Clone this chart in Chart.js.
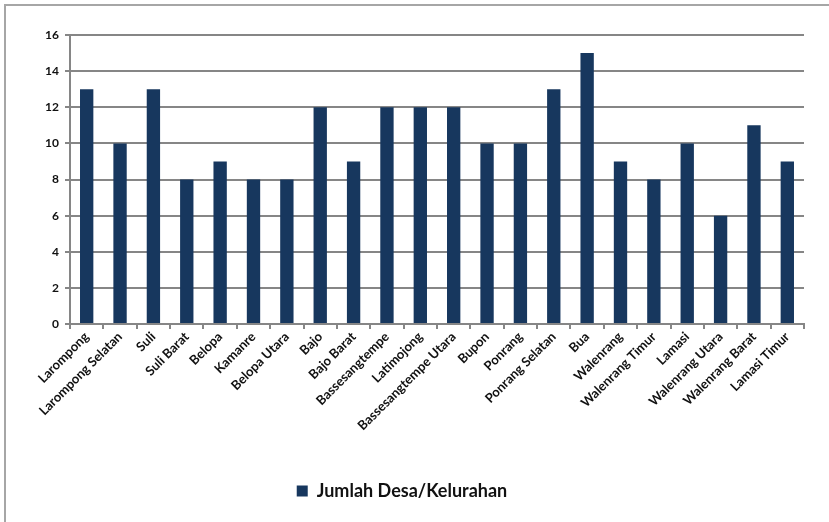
<!DOCTYPE html>
<html><head><meta charset="utf-8">
<script src="https://cdn.jsdelivr.net/npm/chart.js@4/dist/chart.umd.min.js"></script>
<style>
html,body{margin:0;padding:0;background:#fff;overflow:hidden}
#frame{position:absolute;left:4px;top:4px;width:840px;height:540px;border:2px solid #a6a6a6;box-sizing:border-box}
#wrap{position:absolute;left:0;top:0;width:829px;height:522px}
</style></head>
<body>
<div id="frame"></div>
<div id="wrap"><canvas id="c" width="829" height="522"></canvas></div>
<script>
const categories = ["Larompong","Larompong Selatan","Suli","Suli Barat","Belopa","Kamanre","Belopa Utara","Bajo","Bajo Barat","Bassesangtempe","Latimojong","Bassesangtempe Utara","Bupon","Ponrang","Ponrang Selatan","Bua","Walenrang","Walenrang Timur","Lamasi","Walenrang Utara","Walenrang Barat","Lamasi Timur"];
const jumlahDesa = [13,10,13,8,9,8,8,12,9,12,12,12,10,10,13,15,9,8,10,6,11,9];
const seriesName = "Jumlah Desa/Kelurahan";
const yTicks = [0,2,4,6,8,10,12,14,16];

const font = "Lato, 'Open Sans', sans-serif";
new Chart(document.getElementById('c'), {
  type: 'bar',
  data: { labels: categories, datasets: [{ label: seriesName, data: jumlahDesa, backgroundColor: '#17375E', borderWidth: 0, categoryPercentage: 0.4, barPercentage: 1.0 }] },
  options: {
    responsive: false, animation: false,
    layout: { padding: { left: 0, right: 25, top: 35, bottom: 12 } },
    plugins: {
      tooltip: { enabled: false },
      legend: { position: 'bottom', labels: { font: { family: font, size: 18, weight: 'bold' }, color: '#111', boxWidth: 11, boxHeight: 11, padding: 9 } }
    },
    scales: {
      x: {
        afterFit: s => { s.height = 149; },
        grid: { offset: true, drawOnChartArea: false, drawTicks: true, tickLength: 5, color: '#868686', lineWidth: 2 },
        border: { color: '#868686', width: 2 },
        ticks: { minRotation: 45, maxRotation: 45, autoSkip: false, font: { family: font, size: 13, weight: 'bold' }, color: '#111', padding: 0 }
      },
      y: {
        min: 0, max: 16,
        afterFit: s => { s.width = 70; },
        afterBuildTicks: s => { s.ticks = yTicks.map(v => ({ value: v })); },
        grid: { color: '#868686', lineWidth: 2, tickLength: 5, drawTicks: true },
        border: { color: '#868686', width: 2 },
        ticks: { font: { family: font, size: 12, weight: 'bold' }, color: '#111', padding: 6 }
      }
    }
  }
});
</script>
</body></html>
